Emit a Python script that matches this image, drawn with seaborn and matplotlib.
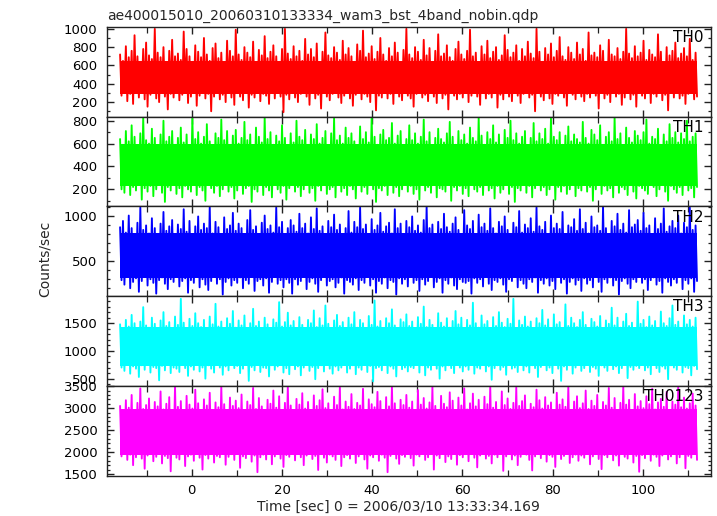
import numpy as np
import pandas as pd
import matplotlib
matplotlib.use("Agg")
import matplotlib.pyplot as plt
import seaborn as sns
from matplotlib.ticker import MultipleLocator

# ---------------- data ----------------
title = "ae400015010_20060310133334_wam3_bst_4band_nobin.qdp"
band_names = ["TH0", "TH1", "TH2", "TH3", "TH0123"]
band_colors = ["#ff0000", "#00ff00", "#0000ff", "#00ffff", "#ff00ff"]
t_first, t_last = -15.9, 112.0           # time span covered by the light curves [s]
x_limits = (-18.8, 115.1)
y_limits = [(40, 1020), (50, 835), (111, 1111), (368, 1987), (1460, 3505)]
y_major = [200, 200, 500, 500, 500]
# range that is densely filled by the samples in every band (counts/sec)
core_low = [290, 230, 310, 730, 1930]
core_high = [650, 600, 820, 1430, 2990]

# successive peaks / troughs of each band (counts/sec)
th0_high = [720, 650, 810, 690, 760, 930, 700, 640, 780, 850, 710, 670, 1000, 740, 690, 800, 620, 760, 880, 700,
            730, 660, 970, 780, 700, 640, 820, 750, 690, 900, 720, 650, 790, 840, 680, 740, 610, 870, 760, 700,
            990, 720, 660, 800, 740, 690, 860, 630, 770, 710, 920, 680, 750, 820, 700, 640, 780, 1000, 730, 670,
            810, 700, 760, 650, 890, 720, 780, 690, 840, 620, 750, 960, 710, 680, 800, 740, 660, 870, 720, 790,
            700, 640, 830, 760, 980, 690, 730, 810, 670, 750, 900, 720, 650, 790, 700, 850, 740, 610, 770, 1000,
            720, 680, 800, 750, 660, 880, 710, 790, 640, 760, 940, 700, 730, 820, 690, 650, 780, 860, 720, 670,
            760, 990, 700, 740, 630, 810, 720, 870, 680, 750, 800, 660, 710, 930, 770, 690, 740, 820, 650, 780,
            700, 860, 730, 680, 1000, 750, 640, 790, 720, 840, 690, 760, 910, 700, 660, 800, 740, 670, 850, 720,
            780, 650, 960, 710, 740, 690, 820, 760, 630, 880, 720, 700, 790, 670, 750, 1000, 730, 680, 810, 700,
            740, 870, 660, 770, 720, 690, 940, 750, 640, 800, 710, 760, 850, 680, 730, 790, 700, 890, 660, 740]
th0_low = [270, 320, 210, 290, 180, 300, 250, 340, 230, 150, 280, 310, 240, 200, 330, 260, 120, 290, 250, 310,
           220, 280, 340, 190, 260, 300, 160, 270, 320, 240, 290, 100, 260, 310, 230, 280, 200, 330, 250, 170,
           300, 260, 220, 310, 140, 280, 250, 330, 210, 290, 270, 180, 320, 240, 300, 260, 90, 280, 230, 310,
           250, 200, 290, 340, 260, 170, 300, 240, 280, 130, 310, 260, 220, 290, 330, 250, 190, 270, 300, 240,
           160, 280, 320, 230, 290, 260, 200, 310, 110, 270, 250, 330, 240, 290, 180, 300, 260, 220, 320, 270,
           240, 150, 290, 310, 250, 280, 210, 330, 260, 190, 300, 240, 280, 120, 310, 270, 230, 290, 250, 340,
           200, 270, 300, 260, 170, 320, 240, 290, 250, 310, 140, 280, 230, 300, 260, 210, 330, 270, 190, 290,
           310, 250, 280, 100, 300, 260, 220, 320, 240, 180, 290, 270, 330, 250, 160, 300, 280, 230, 310, 260,
           210, 290, 250, 330, 270, 130, 300, 240, 280, 200, 320, 260, 290, 170, 250, 310, 230, 280, 150, 300,
           270, 240, 320, 190, 290, 260, 310, 220, 280, 110, 300, 250, 330, 240, 270, 180, 290, 310, 230, 260]

th1_high = [640, 590, 710, 620, 760, 660, 580, 690, 830, 630, 600, 730, 650, 570, 680, 800, 620, 660, 710, 590,
            650, 740, 610, 680, 560, 820, 640, 700, 600, 660, 770, 620, 580, 690, 650, 810, 630, 710, 590, 670,
            720, 600, 650, 790, 630, 680, 560, 740, 660, 610, 830, 640, 700, 590, 670, 620, 760, 650, 580, 690,
            610, 800, 660, 630, 720, 590, 680, 640, 770, 600, 650, 710, 560, 690, 820, 630, 670, 600, 740, 650,
            690, 620, 580, 750, 640, 700, 610, 830, 660, 590, 680, 720, 630, 650, 780, 600, 670, 710, 570, 640,
            760, 630, 690, 600, 660, 810, 620, 700, 580, 650, 730, 640, 610, 690, 790, 660, 590, 710, 630, 680,
            600, 740, 650, 620, 830, 670, 590, 700, 640, 760, 610, 680, 560, 720, 650, 800, 630, 690, 600, 660,
            710, 580, 650, 780, 620, 690, 640, 730, 600, 820, 660, 630, 700, 590, 670, 750, 620, 680, 640, 610,
            790, 650, 600, 720, 680, 630, 760, 590, 660, 700, 620, 830, 640, 690, 580, 740, 650, 610, 710, 670,
            630, 700, 810, 600, 660, 640, 730, 590, 680, 620, 770, 650, 700, 610, 690, 640, 800, 620, 660, 690]
th1_low = [200, 170, 240, 150, 220, 190, 260, 110, 210, 180, 230, 140, 200, 250, 170, 90, 220, 190, 240, 160,
           210, 130, 230, 200, 180, 250, 150, 220, 190, 100, 240, 210, 170, 230, 140, 200, 260, 180, 220, 120,
           190, 240, 160, 210, 230, 90, 200, 180, 250, 150, 220, 190, 130, 240, 200, 170, 230, 110, 210, 260,
           180, 220, 140, 200, 240, 170, 210, 100, 230, 190, 250, 160, 200, 220, 130, 240, 180, 210, 150, 230,
           200, 120, 250, 180, 220, 160, 240, 200, 90, 210, 190, 230, 150, 260, 170, 220, 140, 200, 240, 180,
           230, 160, 200, 110, 240, 190, 220, 170, 250, 130, 210, 200, 180, 240, 100, 220, 190, 230, 160, 210,
           140, 240, 200, 180, 220, 150, 260, 190, 210, 120, 230, 170, 200, 250, 160, 220, 90, 210, 190, 240,
           170, 230, 130, 210, 250, 190, 220, 150, 200, 240, 110, 220, 180, 230, 160, 200, 260, 140, 210, 190,
           250, 180, 220, 100, 200, 240, 160, 230, 190, 210, 130, 250, 170, 220, 200, 150, 240, 180, 120, 230,
           210, 190, 160, 240, 220, 140, 200, 250, 180, 100, 230, 200, 170, 220, 150, 240, 190, 210, 130, 220]

th2_high = [880, 950, 820, 1010, 870, 790, 930, 1100, 850, 900, 810, 980, 870, 760, 920, 1050, 840, 890, 960, 800,
            910, 860, 1080, 830, 950, 780, 890, 1000, 850, 920, 870, 1110, 810, 940, 880, 760, 990, 860, 900, 1040,
            840, 920, 870, 800, 960, 1070, 850, 890, 780, 930, 1010, 860, 900, 820, 1100, 880, 940, 790, 870, 960,
            900, 830, 1030, 870, 920, 810, 990, 860, 1090, 840, 890, 770, 950, 880, 1020, 850, 910, 800, 870, 1060,
            820, 940, 880, 1100, 860, 910, 780, 970, 850, 900, 1040, 830, 890, 930, 810, 1080, 870, 920, 760, 950,
            880, 1000, 840, 900, 820, 960, 1110, 870, 910, 790, 940, 860, 1030, 880, 830, 920, 990, 850, 800, 1070,
            900, 860, 950, 780, 1020, 880, 920, 840, 1090, 870, 810, 940, 890, 1000, 850, 760, 930, 880, 1060, 820,
            910, 870, 980, 830, 1100, 890, 850, 940, 800, 1010, 870, 920, 860, 1050, 780, 900, 880, 970, 840, 1080,
            860, 930, 810, 1000, 880, 900, 840, 1110, 870, 790, 950, 890, 1030, 850, 920, 820, 1070, 880, 910, 960,
            840, 1040, 870, 900, 800, 980, 860, 920, 1090, 830, 890, 950, 870, 1010, 810, 930, 880, 1100, 850, 900]
th2_low = [290, 240, 330, 200, 270, 310, 160, 280, 350, 230, 300, 260, 140, 290, 320, 250, 190, 300, 270, 340,
           220, 280, 310, 150, 290, 260, 330, 210, 300, 240, 180, 280, 360, 250, 300, 130, 270, 310, 230, 290,
           260, 320, 200, 290, 250, 340, 170, 280, 300, 230, 310, 150, 270, 330, 250, 290, 210, 300, 260, 140,
           300, 240, 280, 330, 190, 270, 310, 250, 160, 290, 350, 230, 280, 300, 210, 260, 320, 140, 290, 270,
           240, 310, 180, 290, 260, 330, 230, 300, 150, 280, 250, 320, 200, 290, 270, 130, 310, 250, 300, 220,
           330, 260, 290, 170, 300, 240, 280, 350, 210, 270, 310, 150, 290, 250, 320, 230, 190, 300, 270, 260,
           280, 140, 310, 260, 300, 220, 330, 250, 180, 290, 270, 310, 240, 160, 300, 280, 340, 210, 290, 250,
           200, 300, 270, 320, 150, 290, 250, 310, 230, 280, 190, 330, 260, 300, 140, 270, 310, 240, 290, 170,
           310, 250, 290, 210, 340, 270, 160, 300, 260, 320, 230, 290, 130, 280, 310, 250, 200, 300, 270, 330,
           260, 300, 180, 290, 320, 240, 280, 150, 310, 270, 230, 300, 260, 340, 190, 290, 250, 310, 160, 280]

th3_high = [1480, 1400, 1560, 1440, 1650, 1500, 1370, 1530, 1790, 1460, 1420, 1600, 1490, 1350, 1550, 1700, 1450,
            1520, 1410, 1620, 1470, 1940, 1510, 1390, 1580, 1450, 1680, 1500, 1430, 1560, 1380, 1620, 1480, 1850,
            1440, 1530, 1400, 1590, 1490, 1720, 1420, 1550, 1460, 1640, 1370, 1500, 1760, 1450, 1530, 1410, 1600,
            1480, 1350, 1570, 1510, 1880, 1440, 1520, 1690, 1460, 1540, 1400, 1610, 1470, 1380, 1560, 1500, 1730,
            1430, 1590, 1460, 1820, 1490, 1410, 1550, 1650, 1450, 1520, 1360, 1600, 1480, 1700, 1420, 1560, 1500,
            1390, 1630, 1470, 1910, 1440, 1540, 1410, 1590, 1500, 1750, 1460, 1380, 1570, 1520, 1660, 1450, 1530,
            1400, 1610, 1490, 1800, 1430, 1560, 1470, 1370, 1680, 1510, 1440, 1590, 1420, 1540, 1720, 1480, 1600,
            1390, 1560, 1460, 1870, 1500, 1420, 1640, 1480, 1540, 1380, 1610, 1450, 1700, 1510, 1430, 1580, 1490,
            1940, 1400, 1550, 1470, 1620, 1440, 1530, 1360, 1590, 1500, 1740, 1460, 1570, 1410, 1660, 1480, 1520,
            1390, 1840, 1450, 1600, 1500, 1430, 1560, 1700, 1470, 1410, 1580, 1520, 1440, 1630, 1380, 1550, 1490,
            1780, 1460, 1600, 1420, 1530, 1670, 1450, 1510, 1370, 1890, 1490, 1560, 1430, 1620, 1460, 1540, 1400,
            1710, 1500, 1450, 1590, 1820, 1470, 1530, 1410, 1640, 1480, 1560, 1440, 1600]
th3_low = [700, 640, 760, 590, 720, 680, 530, 740, 660, 800, 610, 710, 690, 470, 730, 650, 770, 600, 700, 680,
           620, 750, 690, 550, 720, 660, 790, 630, 700, 500, 740, 680, 610, 760, 700, 570, 720, 650, 810, 690,
           730, 600, 680, 750, 460, 710, 650, 770, 620, 700, 690, 540, 740, 660, 720, 800, 610, 690, 580, 750,
           670, 720, 560, 700, 780, 640, 710, 490, 690, 740, 630, 760, 680, 590, 720, 650, 700, 820, 610, 680,
           740, 580, 700, 660, 760, 620, 730, 450, 690, 710, 650, 780, 600, 720, 680, 540, 750, 670, 700, 630,
           710, 690, 790, 610, 740, 560, 700, 660, 760, 680, 500, 720, 650, 740, 690, 600, 770, 700, 630, 720,
           660, 750, 590, 700, 680, 810, 630, 720, 480, 690, 740, 660, 710, 570, 760, 680, 700, 620, 790, 650,
           720, 610, 740, 690, 530, 710, 770, 650, 700, 600, 750, 680, 460, 720, 660, 740, 590, 700, 780, 640,
           690, 760, 620, 710, 680, 550, 740, 700, 640, 800, 670, 720, 600, 690, 750, 510, 710, 660, 730, 690,
           750, 650, 700, 580, 760, 690, 620, 720, 680, 490, 740, 700, 660, 780, 610, 710, 690, 560, 730, 670]

th0123_high = [3050, 2950, 3180, 3010, 3300, 2900, 3120, 3450, 2980, 3070, 3220, 2880, 3140, 3040, 3380, 2970, 3100,
               3250, 2920, 3500, 3030, 3160, 2940, 3280, 3080, 2990, 3420, 3110, 2870, 3200, 3060, 3350, 2960, 3130,
               3020, 3490, 3090, 2930, 3240, 3050, 3170, 3000, 3310, 2910, 3150, 3070, 3460, 2980, 3230, 3040, 2890,
               3190, 3100, 3400, 3010, 3270, 2950, 3120, 3500, 3060, 2940, 3210, 3080, 3340, 2990, 3140, 2860, 3290,
               3050, 3180, 3430, 3000, 3110, 2920, 3260, 3070, 3480, 2970, 3150, 3030, 3320, 2980, 3120, 3060, 3440,
               2910, 3200, 3090, 3020, 3370, 3160, 2950, 3250, 3040, 3500, 3110, 2880, 3190, 3070, 3300, 3010, 3150,
               2940, 3410, 3080, 3230, 2990, 3130, 3480, 3050, 2920, 3280, 3100, 3020, 3360, 3170, 2960, 3240, 3060,
               3450, 2970, 3110, 3330, 3040, 3190, 2900, 3260, 3090, 3500, 3010, 3140, 2950, 3380, 3070, 3220, 2980,
               3120, 3470, 3050, 3160, 3290, 2930, 3100, 3020, 3420, 3180, 2990, 3250, 3060, 3130, 2870, 3350, 3080,
               3200, 3030, 3490, 2960, 3150, 3270, 3000, 3110, 3400, 2980, 3170, 3050, 3300, 2920, 3140, 3060, 3460,
               3010, 3230, 2950, 3120, 3500, 3080, 3190, 2900, 3320, 3040, 3160, 3000, 3270, 3090, 3440, 2970, 3130,
               3210, 3030, 3370, 2940, 3150, 3080, 3480, 3020, 3240, 2990, 3110, 3330, 3060]
th0123_low = [1900, 1980, 1820, 1940, 1700, 1880, 2010, 1850, 1620, 1920, 1960, 1790, 1890, 2030, 1740, 1910, 1860,
              1560, 1950, 1870, 1830, 1990, 1680, 1900, 1940, 1800, 2020, 1870, 1600, 1930, 1850, 1970, 1760, 1910,
              1880, 2040, 1710, 1890, 1950, 1820, 1960, 1640, 1900, 1860, 1990, 1780, 1920, 1540, 1880, 1940, 1830,
              2000, 1720, 1900, 1970, 1850, 1660, 1930, 1890, 2010, 1810, 1950, 1880, 1700, 1920, 2030, 1840, 1910,
              1590, 1960, 1870, 1760, 1940, 1900, 1820, 1990, 1680, 1880, 1930, 1850, 2000, 1750, 1900, 1960, 1830,
              1620, 1920, 1880, 2040, 1800, 1940, 1870, 1540, 1910, 1980, 1850, 1730, 1930, 1890, 1960, 1860, 1690,
              1940, 1900, 2010, 1820, 1880, 1950, 1600, 1920, 1860, 1980, 1770, 1900, 1840, 2020, 1710, 1930, 1880,
              1950, 1790, 1960, 1870, 1650, 1920, 1990, 1850, 1910, 1740, 1940, 1880, 2030, 1570, 1900, 1960, 1830,
              1920, 1700, 1890, 1970, 1940, 1820, 1580, 1900, 1950, 1860, 2000, 1780, 1930, 1890, 1660, 1960, 1840,
              1910, 2040, 1750, 1880, 1940, 1800, 1920, 1870, 2010, 1720, 1900, 1950, 1840, 1610, 1930, 1880, 1980,
              1810, 1920, 1690, 1960, 1890, 1850, 2030, 1760, 1910, 1550, 1930, 1860, 1990, 1800, 1940, 1890, 1680,
              1920, 1970, 1830, 1900, 2010, 1740, 1880, 1950, 1630, 1910, 1870, 1990, 1820]

highs = [th0_high, th1_high, th2_high, th3_high, th0123_high]
lows = [th0_low, th1_low, th2_low, th3_low, th0123_low]

# ---------------- style ----------------
sns.set_theme(style="ticks")
plt.rcParams["font.family"] = ["DejaVu Sans"]
plt.rcParams["axes.edgecolor"] = "#222222"
plt.rcParams["axes.linewidth"] = 1.0

fig = plt.figure(figsize=(7.17, 5.16), dpi=100)
left, right = 107 / 717, 711 / 717
top_px, bot_px = 27.0, 475.7
panel_h = (bot_px - top_px) / 5

axes = []
for i in range(5):
    y0 = 1 - (top_px + (i + 1) * panel_h) / 516
    ax = fig.add_axes([left, y0, right - left, panel_h / 516])
    axes.append(ax)

for i, ax in enumerate(axes):
    n = min(len(highs[i]), len(lows[i]))
    vals = []
    for h, l in zip(highs[i][:n], lows[i][:n]):
        vals.extend([h, l])
    t = np.linspace(t_first, t_last, len(vals))
    df = pd.DataFrame({"time": t, "rate": vals})
    ax.fill_between([t_first, t_last], core_low[i], core_high[i], color=band_colors[i],
                    linewidth=0, zorder=2)
    sns.lineplot(data=df, x="time", y="rate", ax=ax, color=band_colors[i],
                 linewidth=1.35, estimator=None, sort=False, legend=False, zorder=3)
    ax.set_xlim(*x_limits)
    ax.set_ylim(*y_limits[i])
    ax.set_xlabel("")
    ax.set_ylabel("")
    ax.xaxis.set_major_locator(MultipleLocator(20))
    ax.xaxis.set_minor_locator(MultipleLocator(10))
    ax.yaxis.set_major_locator(MultipleLocator(y_major[i]))
    ax.yaxis.set_minor_locator(MultipleLocator(100))
    ax.tick_params(axis="both", which="both", direction="in", top=True, right=True,
                   colors="#222222", labelcolor="black", labelsize=9.5)
    ax.tick_params(axis="y", which="major", length=5, width=1, pad=7)
    ax.tick_params(axis="y", which="minor", length=2.5, width=0.9)
    ax.tick_params(axis="x", which="major", length=5, width=1, pad=6)
    ax.tick_params(axis="x", which="minor", length=4, width=0.9)
    if i < 4:
        ax.tick_params(axis="x", labelbottom=False)
    for s in ax.spines.values():
        s.set_visible(True)
        s.set_linewidth(1.0)
        s.set_color("#222222")
        s.set_zorder(5)
    ax.text(0.988, 0.965, band_names[i], transform=ax.transAxes, ha="right", va="top",
            fontsize=11, color="black", zorder=6)

fig.text(left, 1 - 20 / 516, title, ha="left", va="baseline", fontsize=10)
fig.text(45 / 717, 1 - 259 / 516, "Counts/sec", rotation=90, ha="center", va="center", fontsize=10)
fig.text(398 / 717, 1 - 511 / 516, "Time [sec] 0 = 2006/03/10 13:33:34.169", ha="center",
         va="baseline", fontsize=10)

fig.savefig("out.png", dpi=100)
